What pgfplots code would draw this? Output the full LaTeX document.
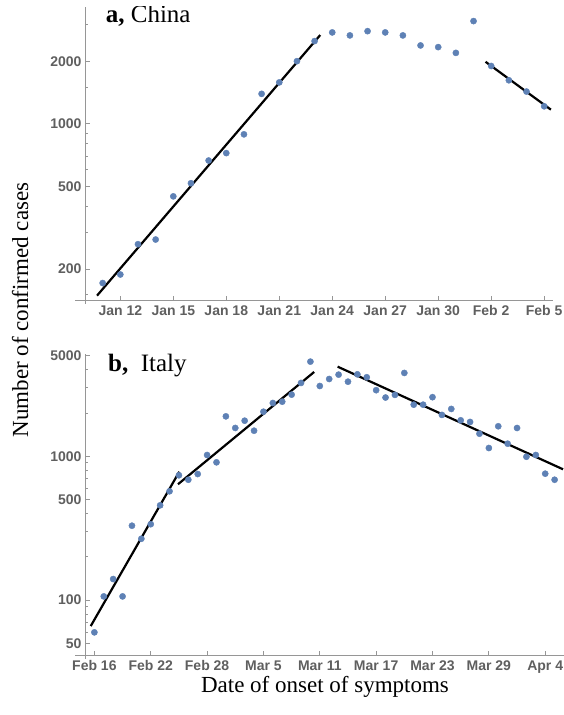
\documentclass[border=0pt]{standalone}
\usepackage{pgfplots}
\pgfplotsset{compat=1.18}
\usepackage{fontspec}
\setmainfont{Liberation Serif}
\newfontfamily\tickfont{Liberation Sans}

\definecolor{dotblue}{RGB}{94,129,181}
\definecolor{axgray}{RGB}{150,150,150}
\definecolor{lblgray}{RGB}{95,95,95}

\begin{document}
\begin{tikzpicture}
\useasboundingbox (0pt,0pt) rectangle (564pt,715pt);

% panel a: China, x = day of year
\begin{axis}[
  scale only axis,
  at={(85pt,414.3pt)}, anchor=south west,
  width=468pt, height=293.7pt,
  ymode=log,
  axis x line*=bottom, axis y line*=left,
  axis line style={draw=axgray, line width=0.9pt},
  tick style={draw=axgray, line width=0.8pt},
  tick align=inside, major tick length=5pt, minor tick length=3pt,
  ticklabel style={font=\tickfont\bfseries\fontsize{14}{16}\selectfont, text=lblgray},
  xticklabel style={yshift=-3.5pt, inner sep=1pt},
  xmin=10, xmax=36.5,
  ymin=140.6, ymax=3648,
  xtick={12,15,...,36},
  xticklabels={Jan 12,Jan 15,Jan 18,Jan 21,Jan 24,Jan 27,Jan 30,Feb 2,Feb 5},
  ytick={200,500,1000,2000},
  yticklabels={200,500,1000,2000},
  minor ytick={150,300,400,600,700,800,900,1500,3000},
]
\addplot[only marks, mark=*, mark size=3.1pt, color=dotblue] coordinates {
  (11,171) (12,188) (13,263) (14,277) (15,447) (16,517) (17,665) (18,722)
  (19,889) (20,1393) (21,1581) (22,2000) (23,2500) (24,2752) (25,2662)
  (26,2790) (27,2752) (28,2662) (29,2382) (30,2338) (31,2193) (32,3120)
  (33,1897) (34,1619) (35,1428) (36,1213)
};
\addplot[no marks, black, line width=2.2pt] coordinates {(10.68,148.7) (23.32,2673)};
\addplot[no marks, black, line width=2.2pt] coordinates {(32.68,1987) (36.38,1169)};
\node[anchor=base west, font=\fontsize{25}{29}\selectfont]
  at (rel axis cs:0.037,0.9455) {\textbf{a,} China};
\end{axis}
% axis lines crossing a little, as in the original frame
\draw[axgray, line width=0.9pt] (75pt,414.3pt) -- (85pt,414.3pt);
\draw[axgray, line width=0.9pt] (85pt,411.3pt) -- (85pt,414.3pt);

% panel b: Italy, x = days after Feb 16
\begin{axis}[
  scale only axis,
  at={(85pt,59.3pt)}, anchor=south west,
  width=479pt, height=301.7pt,
  ymode=log,
  axis x line*=bottom, axis y line*=left,
  axis line style={draw=axgray, line width=0.9pt},
  tick style={draw=axgray, line width=0.8pt},
  tick align=inside, major tick length=5pt, minor tick length=3pt,
  ticklabel style={font=\tickfont\bfseries\fontsize{14}{16}\selectfont, text=lblgray},
  xticklabel style={yshift=-3.5pt, inner sep=1pt},
  xmin=-1, xmax=50,
  ymin=41, ymax=5150,
  xtick={0,6,...,48},
  xticklabels={Feb 16,Feb 22,Feb 28,Mar 5,Mar 11,Mar 17,Mar 23,Mar 29,Apr 4},
  ytick={50,100,500,1000,5000},
  yticklabels={50,100,500,1000,5000},
  minor ytick={60,70,80,90,200,300,400,600,700,800,900,2000,3000,4000},
]
\addplot[only marks, mark=*, mark size=3.1pt, color=dotblue] coordinates {
  (0,59.6) (1,106) (2,140) (3,106) (4,329) (5,267) (6,337) (7,456) (8,571)
  (9,738) (10,687) (11,753) (12,1021) (13,908) (14,1897) (15,1575) (16,1769)
  (17,1507) (18,2043) (19,2349) (20,2399) (21,2685) (22,3239) (23,4558)
  (24,3085) (25,3451) (26,3700) (27,3306) (28,3720) (29,3548) (30,2884)
  (31,2564) (32,2675) (33,3802) (34,2287) (35,2287) (36,2578) (37,1941)
  (38,2136) (39,1781) (40,1734) (41,1436) (42,1142) (43,1618) (44,1224)
  (45,1574) (46,993) (47,1021) (48,757) (49,687)
};
\addplot[no marks, black, line width=2.2pt] coordinates {(-0.39,65.9) (9.04,781)};
\addplot[no marks, black, line width=2.2pt] coordinates {(8.9,639) (23.4,3863)};
\addplot[no marks, black, line width=2.2pt] coordinates {(25.9,4204) (49.9,812)};
\node[anchor=base west, font=\fontsize{25}{29}\selectfont]
  at (rel axis cs:0.041,0.941) {\textbf{b,}\ \ Italy};
\end{axis}
\draw[axgray, line width=0.9pt] (75pt,59.3pt) -- (85pt,59.3pt);
\draw[axgray, line width=0.9pt] (85pt,56.3pt) -- (85pt,59.3pt);

\node[rotate=90, anchor=base, inner sep=0pt, font=\fontsize{23}{27}\selectfont]
  at (28pt,405pt) {Number of confirmed cases};
\node[anchor=base, inner sep=0pt, font=\fontsize{23}{27}\selectfont]
  at (325pt,23pt) {Date of onset of symptoms};
\end{tikzpicture}
\end{document}
